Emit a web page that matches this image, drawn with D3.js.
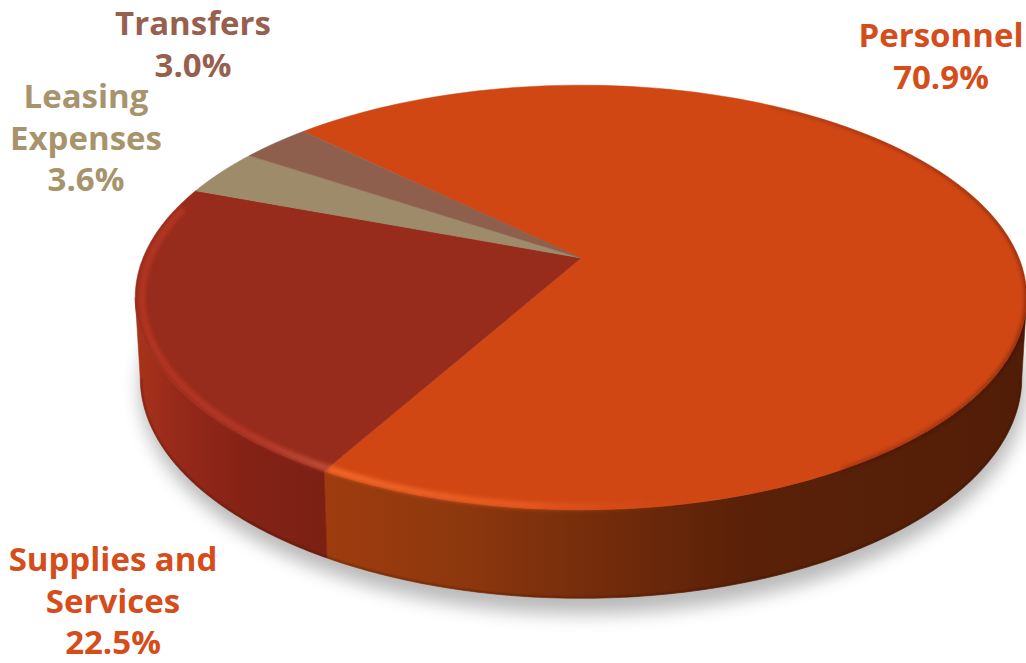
<!DOCTYPE html>
<html>
<head>
<meta charset="utf-8">
<style>
  html, body { margin: 0; padding: 0; background: #fff; }
  svg { display: block; }
  text { font-family: "Open Sans", Lato, sans-serif; font-weight: 700; }
</style>
<script src="https://cdn.jsdelivr.net/npm/d3@7/dist/d3.min.js"></script>
</head>
<body>
<script>
// Budget shares by expense category
const categories = ["Personnel", "Supplies and Services", "Leasing Expenses", "Transfers"];
const shares = [70.9, 22.5, 3.6, 3.0];
const labelLines = [["Personnel"], ["Supplies and", "Services"], ["Leasing", "Expenses"], ["Transfers"]];

const width = 1026, height = 663;
const topColors = ["#d04714", "#982c1c", "#9d8b69", "#8f5f4e"];
const textColors = ["#d44d1b", "#d44d1b", "#a8946c", "#965f4e"];
const labelAnchors = [[941, 47], [113, 571], [86, 108], [193, 35]];
const lineGap = 41.7;

const svg = d3.select("body").append("svg").attr("width", width).attr("height", height);
const defs = svg.append("defs");

// Perspective view of the disc: the centre sits above the middle of the visible ellipse.
const rad = Math.PI / 180;
const view = { cx: 581, cy: 258, a: 438, b: 205, k: 0.186 };
function topPoint(angle) {
  const X = Math.sin(angle), Y = -Math.cos(angle), w = 1 - view.k * Y;
  return [view.cx + view.a * X / w, view.cy + view.b * Y / w];
}
// Outline of the top face as an ellipse, and the lower rim derived from it.
const ellipseMid = { x: view.cx, y: 297.5, rx: 446, ry: 212 };
const base = { cx: 581, cy: 378, rx: 441, ry: 220 };
function basePoint(angle) {
  const p = topPoint(angle);
  return [base.cx + (p[0] - ellipseMid.x) / ellipseMid.rx * base.rx,
          base.cy + (p[1] - ellipseMid.y) / ellipseMid.ry * base.ry];
}
function insetPoint(angle, inset) {
  const p = topPoint(angle);
  return [ellipseMid.x + (p[0] - ellipseMid.x) * inset,
          ellipseMid.y + (p[1] - ellipseMid.y) * inset];
}

const pie = d3.pie().sort(null).value(d => d)
  .startAngle(-45.8 * rad).endAngle(314.2 * rad);
const arcs = pie(shares);
const line = d3.line();
const sweep = (a0, a1) => d3.range(0, 121).map(i => a0 + (a1 - a0) * i / 120);

// Blur filters
function blur(id, dev) {
  defs.append("filter").attr("id", id)
    .attr("x", "-10%").attr("y", "-10%").attr("width", "120%").attr("height", "120%")
    .append("feGaussianBlur").attr("stdDeviation", dev);
}
blur("soft", 2.2);
blur("edge", 1.2);
blur("shadow", 9);

function hGradient(id, stops) {
  const g = defs.append("linearGradient").attr("id", id)
    .attr("gradientUnits", "userSpaceOnUse")
    .attr("x1", 0).attr("x2", width).attr("y1", 0).attr("y2", 0);
  stops.forEach(s => g.append("stop")
    .attr("offset", s[0] / width)
    .attr("stop-color", s[1])
    .attr("stop-opacity", s[2] === undefined ? 1 : s[2]));
}
hGradient("side0", [[328, "#9e3c0e"], [450, "#8f380e"], [600, "#742c0b"], [740, "#5a2108"], [1026, "#521d07"]]);
hGradient("side1", [[136, "#a8331b"], [180, "#96291a"], [250, "#832216"], [330, "#7b2013"]]);
hGradient("rim0", [[328, "#f46a2a", 1], [520, "#ee5f24", 0.85], [690, "#d04714", 0]]);
hGradient("rim1", [[136, "#b83822", 0.9], [250, "#b9392a", 0.9], [328, "#c2503a", 1]]);
hGradient("edge0", [[640, "#3a1404", 0], [860, "#3a1404", 0.4], [1026, "#3a1404", 0.6]]);

// The part of the wall facing the viewer runs between the side extremes of the outline.
const frontStart = Math.acos(-view.k);
const frontEnd = 2 * Math.PI - frontStart;

// Ground shadow under the disc
svg.append("ellipse")
  .attr("cx", base.cx + 2).attr("cy", base.cy + 10)
  .attr("rx", base.rx + 2).attr("ry", base.ry + 6)
  .attr("fill", "#000").attr("opacity", 0.27)
  .attr("filter", "url(#shadow)");

// Clip for highlights so their blur stays on the disc
const topRing = d3.range(0, 241).map(i => topPoint(i * 1.5 * rad));
const clip = defs.append("clipPath").attr("id", "disc");
clip.append("path").attr("d", line(topRing) + "Z");
clip.append("path").attr("d",
  line(sweep(frontStart, frontEnd).map(topPoint).concat(sweep(frontEnd, frontStart).map(basePoint))) + "Z");

// Front wall, one piece per slice
arcs.forEach((d, i) => {
  const a0 = Math.max(d.startAngle, frontStart), a1 = Math.min(d.endAngle, frontEnd);
  if (a1 <= a0) return;
  const outline = sweep(a0, a1).map(topPoint).concat(sweep(a1, a0).map(basePoint));
  svg.append("path").attr("class", "wall")
    .attr("d", line(outline) + "Z")
    .attr("fill", `url(#side${i})`)
    .attr("stroke", `url(#side${i})`).attr("stroke-width", 0.6);
});

// Darker line where the wall meets the ground
svg.append("g").attr("clip-path", "url(#disc)").append("path")
  .attr("d", line(sweep(frontStart, frontEnd).map(basePoint)))
  .attr("fill", "none").attr("stroke", "#3a1104").attr("stroke-opacity", 0.45)
  .attr("stroke-width", 2.5).attr("filter", "url(#edge)");

// Top face
arcs.forEach((d, i) => {
  const outline = [[view.cx, view.cy]].concat(sweep(d.startAngle, d.endAngle).map(topPoint));
  svg.append("path").attr("class", "slice")
    .attr("d", line(outline) + "Z")
    .attr("fill", topColors[i])
    .attr("stroke", topColors[i]).attr("stroke-width", 0.5);
});

const bevel = svg.append("g").attr("clip-path", "url(#disc)");

// Soft bevel just inside the front edge of the top face
arcs.slice(0, 2).forEach((d, i) => {
  const a0 = i === 0 ? 105 * rad : d.startAngle, a1 = i === 0 ? d.endAngle : 285 * rad;
  bevel.append("path")
    .attr("d", line(sweep(a0, a1).map(a => insetPoint(a, 0.985))))
    .attr("fill", "none").attr("stroke", `url(#rim${i})`)
    .attr("stroke-width", 6).attr("filter", "url(#soft)");
});
bevel.append("path")
  .attr("d", line(sweep(30 * rad, 150 * rad).map(topPoint)))
  .attr("fill", "none").attr("stroke", "url(#edge0)")
  .attr("stroke-width", 3).attr("filter", "url(#soft)");

// Category labels with their share
arcs.forEach((d, i) => {
  const [x, y] = labelAnchors[i];
  const text = svg.append("text")
    .attr("text-anchor", "middle").attr("fill", textColors[i])
    .attr("font-size", 33);
  labelLines[i].concat(d.value.toFixed(1) + "%").forEach((str, j) => {
    text.append("tspan").attr("x", x).attr("y", y + j * lineGap).text(str);
  });
});
</script>
</body>
</html>
